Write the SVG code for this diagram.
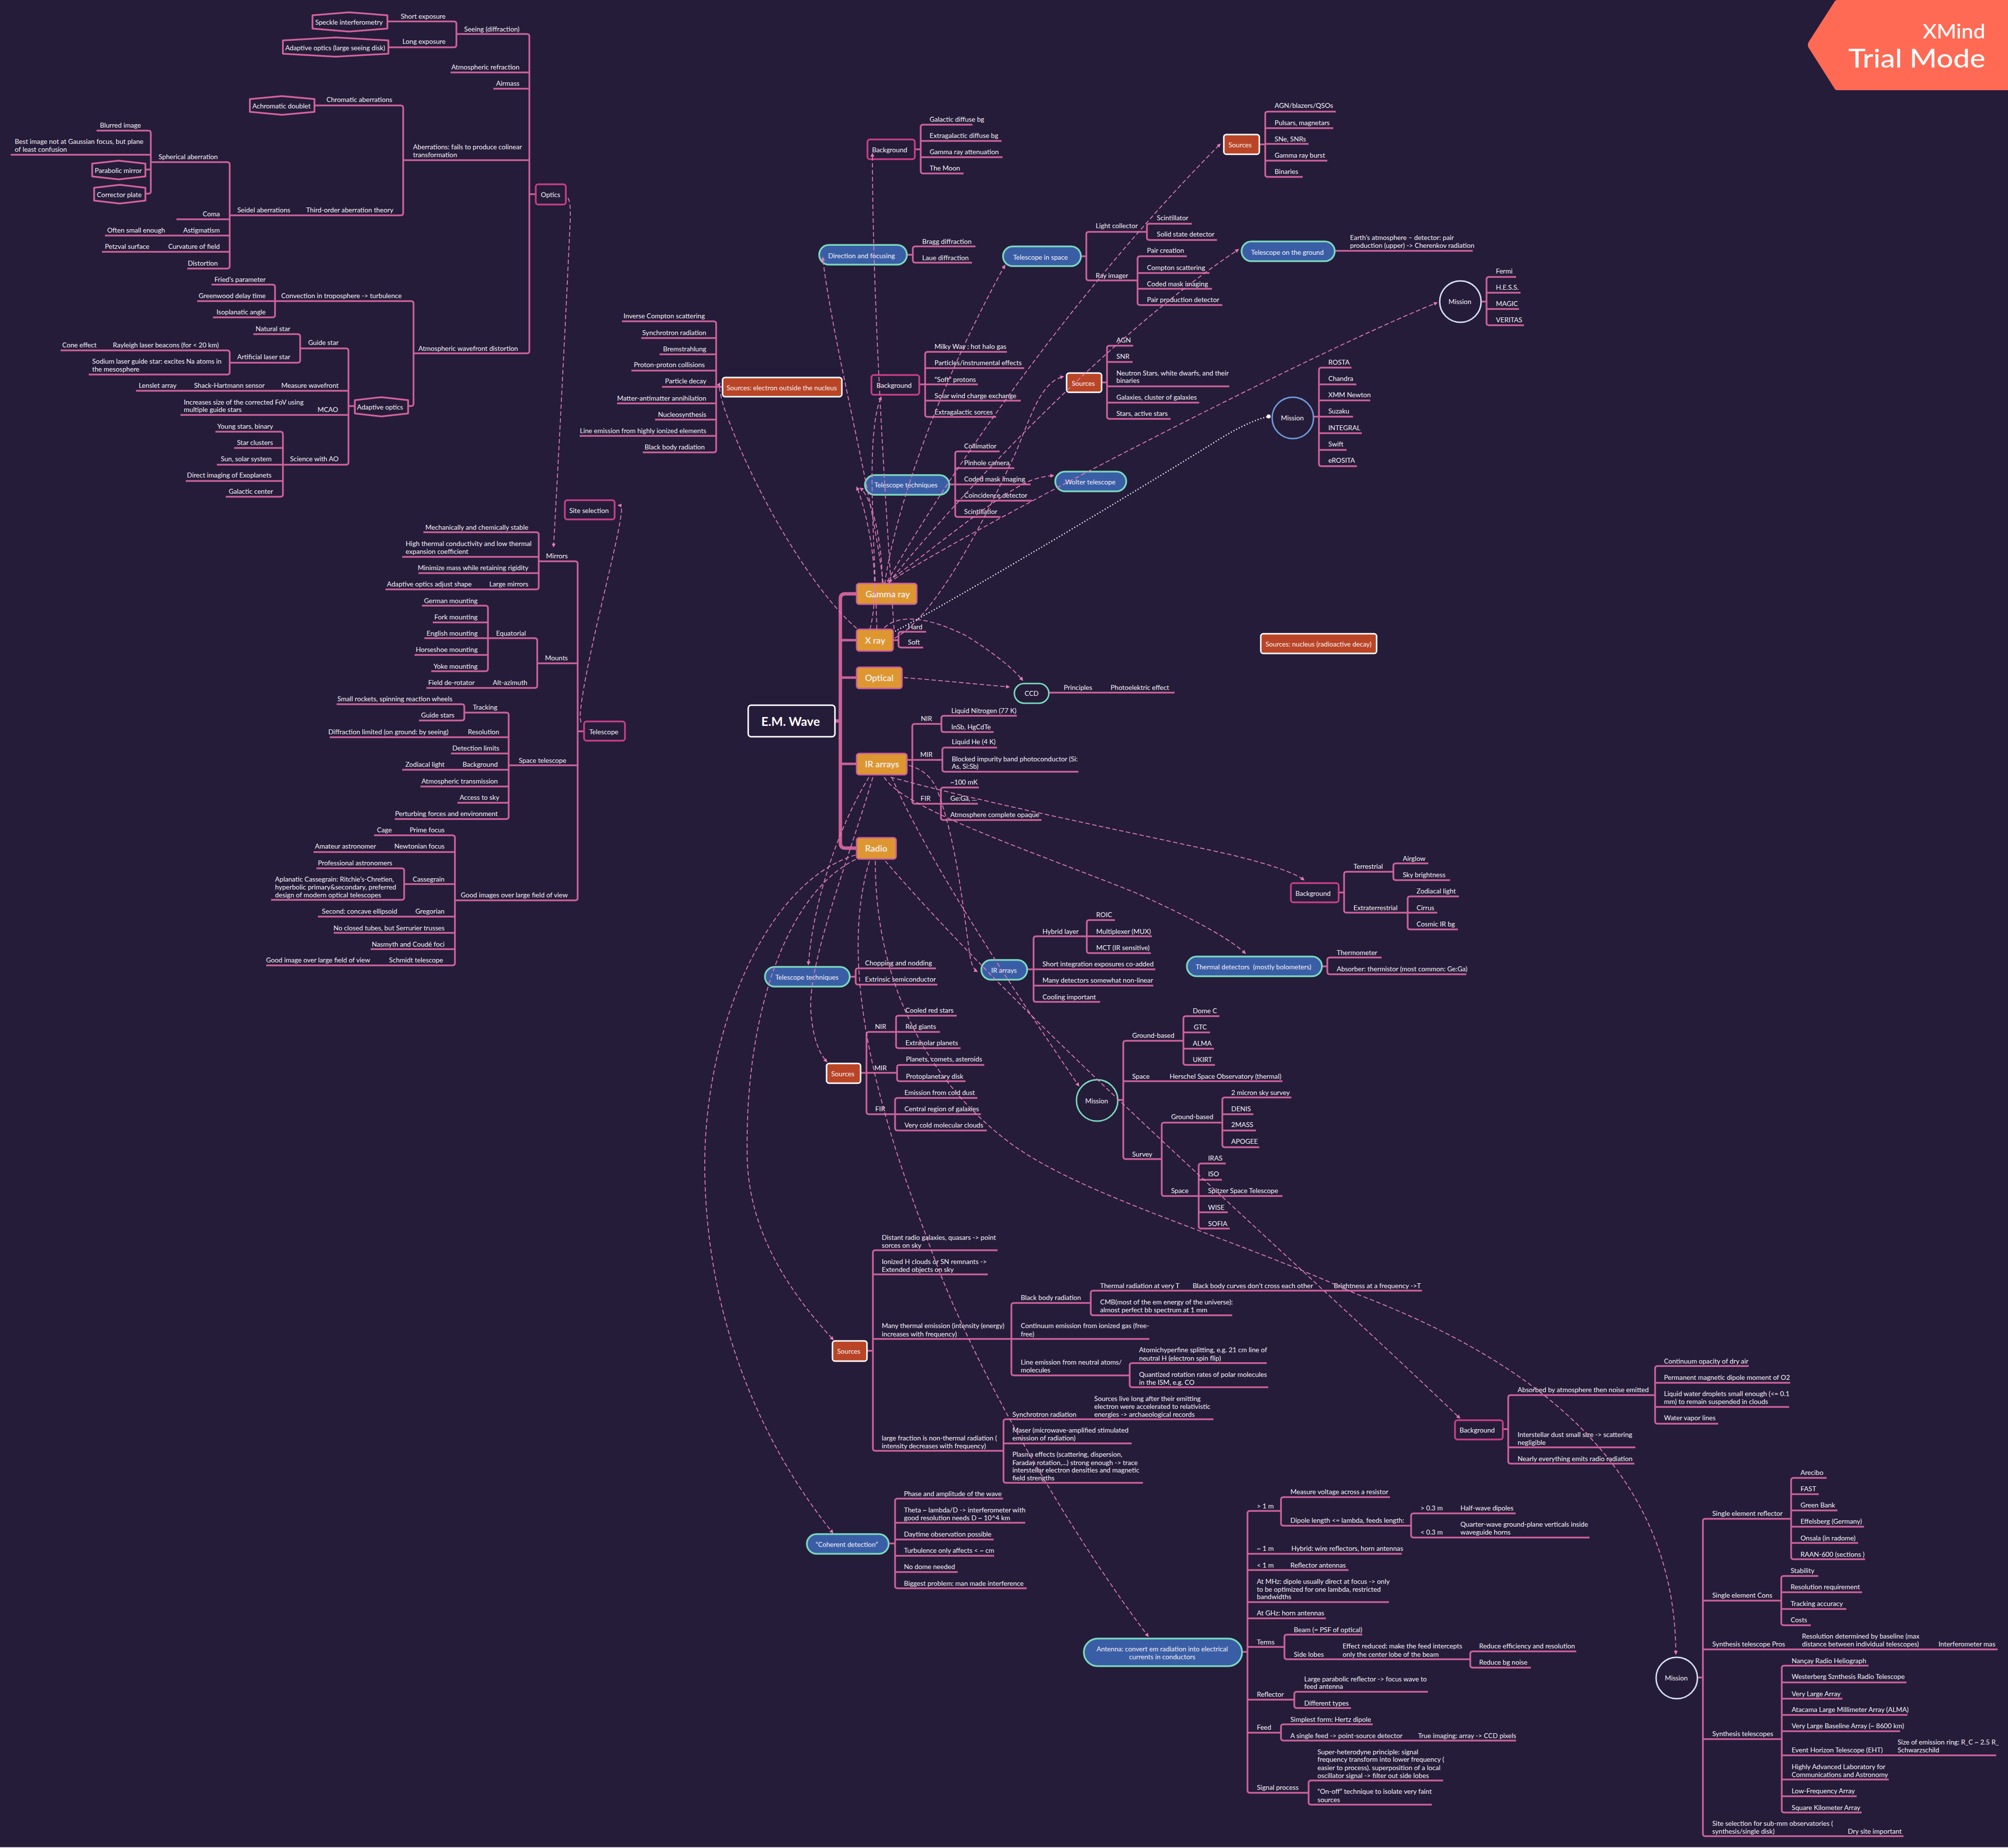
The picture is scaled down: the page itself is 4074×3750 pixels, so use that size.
<svg xmlns="http://www.w3.org/2000/svg" width="4074" height="3750" viewBox="0 0 4074 3750">
<style>
text{font-family:"Lato","Liberation Sans",sans-serif;font-size:13.7px;fill:#f4f1f6;dominant-baseline:central}
.r{text-anchor:end}
.c{text-anchor:middle}
.l{fill:none;stroke:#cb6299;stroke-width:3.5}
.m{fill:none;stroke:#cb6299;stroke-width:7}
.m2{fill:none;stroke:#cb6299;stroke-width:5}
.hex{fill:#251c3a;stroke:#d2639c;stroke-width:3.5;stroke-linejoin:round}
.box{fill:#251c3a;stroke:#c83f86;stroke-width:3.5}
.src{fill:#b94526;stroke:#fff;stroke-width:3}
.blue{fill:#3a5ea6;stroke:#7ad9bd;stroke-width:3.5}
.org{fill:#de9730;stroke:#cb6299;stroke-width:3}
.o{font-size:18px;font-weight:600}
.rel{fill:none;stroke:#e27cb6;stroke-width:1.8;stroke-dasharray:9 5;marker-end:url(#arr)}
.dot{fill:none;stroke:#fff;stroke-width:2.5;stroke-dasharray:2 4;marker-end:url(#dotm)}
</style>
<defs>
<marker id="arr" markerUnits="userSpaceOnUse" markerWidth="10" markerHeight="10" refX="7" refY="4" orient="auto"><path d="M0 0L8 4L0 8Z" fill="#e27cb6"/></marker>
<marker id="dotm" markerUnits="userSpaceOnUse" markerWidth="10" markerHeight="10" refX="5" refY="5" orient="auto"><circle cx="5" cy="5" r="4" fill="#fff"/></marker>
</defs>
<rect width="4074" height="3750" fill="#251c3a"/>
<rect y="3748" width="4074" height="2" fill="#c9c9d2"/>
<g id="connectors">
<path class="m" d="M1738 1205H1715q-10 0-10 10V1711q0 10 10 10H1738M1694 1463H1705"/>
<path class="m2" d="M1705 1299H1738M1705 1375H1738M1705 1550H1738"/>
<path class="l" d="M926 69H1069q5 0 5 5V712q0 5-5 5H839M914 147H1074M1001 180H1074M818 325H1074M1074 394H1087
M786 43.5H921q5 0 5 5V91q0 5-5 5H788
M638 214H813q5 0 5 5V432q0 5-5 5H466
M307 329H461q5 0 5 5V540q0 5-5 5H380M358 445H466M213 478H466M207 511H466
M196 265H301q5 0 5 5V388q0 5-5 5H295M22 314H306M295 344H306
M558 611H834q5 0 5 5V819q0 5-5 5H828
M429 577.5H553q5 0 5 5V639q0 5-5 5H432M400 611H558
M609 707H702q5 0 5 5V938q0 5-5 5H574M276 793H707M366 842H707M707 824H720
M514 678H604q5 0 5 5V731q0 5-5 5H466
M123 711H461q5 0 5 5V755q0 5-5 5H180
M437 876H569q5 0 5 5V1003q0 5-5 5H458M475 909H574M440 943H574M377 976H574
M1093 1139H1167q5 0 5 5V1822q0 5-5 5H923M1090 1346H1172M1032 1553H1172M1172 1484H1185
M859 1080H1088q5 0 5 5V1191q0 5-5 5H782M816 1130H1093M849 1163H1093
M990 1295H1085q5 0 5 5V1391q0 5-5 5H865
M856 1229H985q5 0 5 5V1357q0 5-5 5H875M878 1263H990M861 1295H990M841 1329H990
M942 1446H1027q5 0 5 5V1657q0 5-5 5H801M669 1496H1032M915 1529H1032M816 1562H1032M853 1596H1032M928 1629H1032
M683 1429H937q5 0 5 5V1457q0 5-5 5H850
M759 1695H918q5 0 5 5V1954q0 5-5 5H540M636 1729H923M820 1794H923M645 1860H923M677 1893H923M752 1926H923
M642 1762H815q5 0 5 5V1821q0 5-5 5H550
M1262 652H1448q5 0 5 5V913q0 5-5 5H1304M1301 686H1453M1338 719H1453M1281 752H1453M1343 785H1453M1252 818.5H1453M1329 851.5H1453M1176 884.5H1453M1453 785H1466
M1879 1282H1828q-5 0-5 5V1309q0 5 5 5H1873M1812 1299H1823
M2128 1405.5H2383
M1910 1469H1856q-5 0-5 5V1626q0 5 5 5H1984M1840 1542H1912
M2063 1452.5H1915q-5 0-5 5V1480.5q0 5 5 5H2016
M2023 1517H1917q-5 0-5 5V1561q0 5 5 5H2188
M1986 1598H1914q-5 0-5 5V1659q0 5 5 5H2113
M1973 253H1873q-5 0-5 5V347q0 5 5 5H1955M2032 286H1868M2034 319H1868M1856 303H1868
M1979 500H1857q-5 0-5 5V528q0 5 5 5H1972M1840 517H1852
M2327 470.5H2209q-5 0-5 5V564q0 5 5 5H2308M2193 520H2204
M2418 454H2332q-5 0-5 5V482q0 5 5 5H2469
M2408 520H2313q-5 0-5 5V614q0 5 5 5H2480M2454 554H2308M2459 586H2308
M2710 226.5H2572q-5 0-5 5V354q0 5 5 5H2643M2705 260H2567M2655 292H2567M2693 326H2567M2555 293H2567
M2708 509H2988
M3076 562H3021q-5 0-5 5V655q0 5 5 5H3092M3085 594H3016M3082 627H3016M3005 612H3016
M2742 746H2681q-5 0-5 5V941q0 5 5 5H2753M2752 780H2676M2780 812.5H2676M2745 845.5H2665M2763 879H2676M2732 913H2676
M2299 701.5H2251q-5 0-5 5V845q0 5 5 5H2375M2298 734.5H2246M2494 784H2246M2433 817H2246M2235 776H2246
M2028 916H1943q-5 0-5 5V1044q0 5 5 5H2030M2058 950H1938M2091 983H1926M2094 1016H1938
M2043 714H1882q-5 0-5 5V841q0 5 5 5H2021M2078 747H1877M1984 780H1865M2071 813H1877
M2827 1769H2732q-5 0-5 5V1847q0 5 5 5H2916M2716 1811H2727
M2898 1752H2832q-5 0-5 5V1781q0 5 5 5H2942
M2960 1819H2861q-5 0-5 5V1881q0 5 5 5H2958
M2803 1943H2698q-5 0-5 5V1972q0 5 5 5H2975M2682 1961H2693
M2205 1900H2102q-5 0-5 5V2028q0 5 5 5H2232M2344 1967H2084M2340 2000H2097
M2262 1867H2210q-5 0-5 5V1929q0 5 5 5H2335M2337 1900H2205
M2401 2112H2284q-5 0-5 5V2347q0 5 5 5H2357M2602 2194H2279M2268 2232H2279
M2474 2062H2406q-5 0-5 5V2156q0 5 5 5H2465M2455 2095H2401M2463 2128H2401
M2480 2278H2362q-5 0-5 5V2422q0 5 5 5H2602
M2487 2361H2437q-5 0-5 5V2488q0 5 5 5H2495M2479 2394H2432M2491 2460H2432
M2620 2227H2485q-5 0-5 5V2323q0 5 5 5H2555M2543 2261H2480M2548 2294H2480
M1899 1965H1741q-5 0-5 5V1993q0 5 5 5H1902M1724 1982H1736
M1818 2094H1763q-5 0-5 5V2256q0 5 5 5H1816M1746 2177H1820
M1941 2061H1823q-5 0-5 5V2122q0 5 5 5H1949M1907 2094H1818
M1997 2161H1825q-5 0-5 5V2189q0 5 5 5H1959
M1983 2228H1821q-5 0-5 5V2289q0 5 5 5H2002M1990 2261H1816
M2024 2537H1776q-5 0-5 5V2939q0 5 5 5H2036M2004 2586H1771M2332 2717H1771M1759 2741H1771
M2213 2644H2057q-5 0-5 5V2786q0 5 5 5H2292
M2885 2619H2218q-5 0-5 5V2664q0 5 5 5H2500
M2570 2766H2297q-5 0-5 5V2810q0 5 5 5H2573
M2462 2880H2041q-5 0-5 5V3004q0 5 5 5H2319M2296 2929H2036
M2035 3041H1821q-5 0-5 5V3218q0 5 5 5H2083M2080 3090H1816M2016 3124H1816M2017 3157H1816M1943 3190H1816M1803 3132H1816
M2599 3066H2536q-5 0-5 5V3633q0 5 5 5H2655M2844 3153H2531M2736 3186H2531M2818 3251H2531M2690 3284H2531M2606 3342H2531M2626 3449H2531M2599 3516H2531M2520 3352H2531
M2820 3038H2604q-5 0-5 5V3091q0 5 5 5H2863
M3075 3071H2868q-5 0-5 5V3115q0 5 5 5H3225
M2764 3317H2611q-5 0-5 5V3362q0 5 5 5H2983
M3198 3351H2988q-5 0-5 5V3379q0 5 5 5H3106
M2897 3433H2631q-5 0-5 5V3461q0 5 5 5H2741
M2785 3499H2604q-5 0-5 5V3527q0 5 5 5H3076
M2928 3613H2660q-5 0-5 5V3657q0 5 5 5H2905
M3358 2831H3065q-5 0-5 5V2965q0 5 5 5H3316M3318 2937H3060M3049 2900H3060
M3548 2772H3363q-5 0-5 5V2884q0 5 5 5H3486M3632 2806H3358M3630 2855H3358
M3634 3082H3460q-5 0-5 5V3721q0 5 5 5H3862M3614 3248H3455M4053 3347H3455M3615 3529H3455M3445 3404H3455
M3706 2999H3639q-5 0-5 5V3159q0 5 5 5H3784M3690 3032H3634M3728 3065H3634M3782 3098H3634M3770 3131H3634
M3689 3198H3619q-5 0-5 5V3293q0 5 5 5H3674M3778 3231H3614M3746 3265H3614
M3791 3380H3620q-5 0-5 5V3673q0 5 5 5H3777M3868 3414H3615M3738 3447H3615M3870 3480H3615M3855 3513H3615M4050 3562H3615M3832 3611H3615M3767 3645H3615"/>
</g>
<g id="nodes">
<g id="root"><rect x="1518" y="1431" width="176" height="64" rx="6" fill="#251c3a" stroke="#fff" stroke-width="3"/><text class="c" x="1604" y="1463" style="font-size:25px;font-weight:700;fill:#fff">E.M. Wave</text></g>
<g id="gamma"><rect class="org" x="1738" y="1184" width="122" height="42" rx="5"/><text class="o" x="1756" y="1205">Gamma ray</text></g>
<g id="xray"><rect class="org" x="1738" y="1277" width="74" height="44" rx="5"/><text class="o" x="1755" y="1299">X ray</text></g>
<g id="optical"><rect class="org" x="1738" y="1354" width="92" height="43" rx="5"/><text class="o" x="1755" y="1375">Optical</text></g>
<g id="irarrays"><rect class="org" x="1738" y="1529" width="102" height="43" rx="5"/><text class="o" x="1755" y="1550">IR arrays</text></g>
<g id="radio"><rect class="org" x="1738" y="1700" width="80" height="43" rx="5"/><text class="o" x="1755" y="1721">Radio</text></g>

<g id="optics"><rect class="box" x="1087" y="374" width="61" height="41" rx="5"/><text class="c" x="1117" y="394">Optics</text></g>
<g id="n1"><text class="r" x="1054" y="58">Seeing (diffraction)</text></g>
<g id="n2"><text class="r" x="904" y="32">Short exposure</text></g>
<g id="n3"><polygon class="hex" points="634,31 708,25 786,31 786,58 708,64 634,58"/><text class="c" x="708" y="44">Speckle interferometry</text></g>
<g id="n4"><text class="r" x="904" y="83">Long exposure</text></g>
<g id="n5"><polygon class="hex" points="574,82 681,76 788,82 788,109 681,115 574,109"/><text class="c" x="680" y="96">Adaptive optics (large seeing disk)</text></g>
<g id="n6"><text class="r" x="1054" y="135">Atmospheric refraction</text></g>
<g id="n7"><text class="r" x="1054" y="168">Airmass</text></g>
<g id="n8"><text x="838" y="297">Aberrations: fails to produce colinear<tspan x="838" y="313">transformation</tspan></text></g>
<g id="n9"><text class="r" x="796" y="201">Chromatic aberrations</text></g>
<g id="n10"><polygon class="hex" points="507,201 572,195 638,201 638,227 572,233 507,227"/><text class="c" x="571" y="214">Achromatic doublet</text></g>
<g id="n11"><text class="r" x="798" y="425">Third-order aberration theory</text></g>
<g id="n12"><text class="r" x="589" y="425">Seidel aberrations</text></g>
<g id="n13"><text class="r" x="442" y="317">Spherical aberration</text></g>
<g id="n14"><text class="r" x="286" y="253">Blurred image</text></g>
<g id="n15"><text x="30" y="286">Best image not at Gaussian focus, but plane<tspan x="30" y="302">of least confusion</tspan></text></g>
<g id="n16"><polygon class="hex" points="187,332 241,326 295,332 295,358 241,364 187,358"/><text class="c" x="240" y="345">Parabolic mirror</text></g>
<g id="n17"><polygon class="hex" points="191,381 243,375 295,381 295,407 243,413 191,407"/><text class="c" x="242" y="394">Corrector plate</text></g>
<g id="n18"><text class="r" x="446" y="433">Coma</text></g>
<g id="n19"><text class="r" x="446" y="466">Astigmatism</text></g>
<g id="n20"><text class="r" x="335" y="466">Often small enough</text></g>
<g id="n21"><text class="r" x="446" y="499">Curvature of field</text></g>
<g id="n22"><text class="r" x="303" y="499">Petzval surface</text></g>
<g id="n23"><text class="r" x="442" y="533">Distortion</text></g>
<g id="n24"><text class="r" x="1051" y="706">Atmospheric wavefront distortion</text></g>
<g id="n25"><text class="r" x="815" y="599">Convection in troposphere  -&gt; turbulence</text></g>
<g id="n26"><text class="r" x="539" y="566">Fried’s parameter</text></g>
<g id="n27"><text class="r" x="539" y="599">Greenwood delay time</text></g>
<g id="n28"><text class="r" x="539" y="632">Isoplanatic angle</text></g>
<g id="n29"><polygon class="hex" points="720,812 774,806 828,812 828,839 774,845 720,839"/><text class="c" x="771" y="825">Adaptive optics</text></g>
<g id="n30"><text class="r" x="687" y="694">Guide star</text></g>
<g id="n31"><text class="r" x="589" y="666">Natural star</text></g>
<g id="n32"><text class="r" x="589" y="723">Artificial laser star</text></g>
<g id="n33"><text class="r" x="444" y="699">Rayleigh laser beacons (for &lt; 20 km)</text></g>
<g id="n34"><text class="r" x="196" y="699">Cone effect</text></g>
<g id="n35"><text x="187" y="732">Sodium laser guide star: excites Na atoms in<tspan x="187" y="748">the mesosphere</tspan></text></g>
<g id="n36"><text class="r" x="687" y="781">Measure wavefront</text></g>
<g id="n37"><text class="r" x="537" y="781">Shack-Hartmann sensor</text></g>
<g id="n38"><text class="r" x="358" y="781">Lenslet array</text></g>
<g id="n39"><text class="r" x="686" y="830">MCAO</text></g>
<g id="n40"><text x="373" y="815">Increases size of the corrected FoV using<tspan x="373" y="830">multiple guide stars</tspan></text></g>
<g id="n41"><text class="r" x="687" y="930">Science with AO</text></g>
<g id="n42"><text class="r" x="554" y="864">Young stars, binary</text></g>
<g id="n43"><text class="r" x="554" y="897">Star clusters</text></g>
<g id="n44"><text class="r" x="551" y="930">Sun, solar system</text></g>
<g id="n45"><text class="r" x="551" y="963">Direct imaging of Exoplanets</text></g>
<g id="n46"><text class="r" x="554" y="996">Galactic center</text></g>

<g id="site"><rect class="box" x="1146" y="1015" width="101" height="39" rx="5"/><text class="c" x="1195" y="1035">Site selection</text></g>
<g id="telescope"><rect class="box" x="1185" y="1464" width="83" height="39" rx="5"/><text class="c" x="1225" y="1484">Telescope</text></g>
<g id="n50"><text class="r" x="1152" y="1127">Mirrors</text></g>
<g id="n51"><text class="r" x="1072" y="1069">Mechanically and chemically stable</text></g>
<g id="n52"><text x="823" y="1102">High thermal conductivity and low thermal<tspan x="823" y="1118">expansion coefficient</tspan></text></g>
<g id="n53"><text class="r" x="1072" y="1151">Minimize mass while retaining rigidity</text></g>
<g id="n54"><text class="r" x="1072" y="1184">Large mirrors</text></g>
<g id="n55"><text class="r" x="957" y="1184">Adaptive optics adjust shape</text></g>
<g id="n56"><text class="r" x="1152" y="1334">Mounts</text></g>
<g id="n57"><text class="r" x="1067" y="1284">Equatorial</text></g>
<g id="n58"><text class="r" x="969" y="1218">German mounting</text></g>
<g id="n59"><text class="r" x="969" y="1251">Fork mounting</text></g>
<g id="n60"><text class="r" x="969" y="1284">English mounting</text></g>
<g id="n61"><text class="r" x="969" y="1317">Horseshoe mounting</text></g>
<g id="n62"><text class="r" x="969" y="1351">Yoke mounting</text></g>
<g id="n63"><text class="r" x="1070" y="1384">Alt-azimuth</text></g>
<g id="n64"><text class="r" x="963" y="1384">Field de-rotator</text></g>
<g id="n65"><text class="r" x="1149" y="1542">Space telescope</text></g>
<g id="n66"><text class="r" x="1009" y="1434">Tracking</text></g>
<g id="n67"><text class="r" x="918" y="1417">Small rockets, spinning reaction wheels</text></g>
<g id="n68"><text class="r" x="922" y="1450">Guide stars</text></g>
<g id="n69"><text class="r" x="1013" y="1484">Resolution</text></g>
<g id="n70"><text class="r" x="910" y="1484">Diffraction limited (on ground: by seeing)</text></g>
<g id="n71"><text class="r" x="1013" y="1517">Detection limits</text></g>
<g id="n72"><text class="r" x="1010" y="1550">Background</text></g>
<g id="n73"><text class="r" x="902" y="1550">Zodiacal light</text></g>
<g id="n74"><text class="r" x="1010" y="1584">Atmospheric transmission</text></g>
<g id="n75"><text class="r" x="1013" y="1617">Access to sky</text></g>
<g id="n76"><text class="r" x="1010" y="1650">Perturbing forces and environment</text></g>
<g id="n77"><text class="r" x="1152" y="1815">Good images over large field of view</text></g>
<g id="n78"><text class="r" x="902" y="1683">Prime focus</text></g>
<g id="n79"><text class="r" x="795" y="1683">Cage</text></g>
<g id="n80"><text class="r" x="902" y="1716">Newtonian focus</text></g>
<g id="n81"><text class="r" x="763" y="1716">Amateur astronomer</text></g>
<g id="n82"><text class="r" x="902" y="1783">Cassegrain</text></g>
<g id="n83"><text class="r" x="796" y="1750">Professional astronomers</text></g>
<g id="n84"><text x="558" y="1783">Aplanatic Cassegrain: Ritchie’s-Chretien,<tspan x="558" y="1799">hyperbolic primary&amp;secondary, preferred</tspan><tspan x="558" y="1815">design of modern optical telescopes</tspan></text></g>
<g id="n85"><text class="r" x="902" y="1848">Gregorian</text></g>
<g id="n86"><text class="r" x="806" y="1848">Second: concave ellipsoid</text></g>
<g id="n87"><text class="r" x="902" y="1882">No closed tubes, but Serrurier trusses</text></g>
<g id="n88"><text class="r" x="902" y="1915">Nasmyth and Coudé foci</text></g>
<g id="n89"><text class="r" x="899" y="1947">Schmidt telescope</text></g>
<g id="n90"><text class="r" x="751" y="1947">Good image over large field of view</text></g>

<g id="srcE"><rect class="src" x="1466" y="766" width="242" height="39" rx="5"/><text class="c" x="1586" y="786">Sources: electron outside the nucleus</text></g>
<g id="n100"><text class="r" x="1430" y="640">Inverse Compton scattering</text></g>
<g id="n101"><text class="r" x="1433" y="674">Synchrotron radiation</text></g>
<g id="n102"><text class="r" x="1433" y="707">Bremstrahlung</text></g>
<g id="n103"><text class="r" x="1430" y="739">Proton-proton  collisions</text></g>
<g id="n104"><text class="r" x="1433" y="772">Particle decay</text></g>
<g id="n105"><text class="r" x="1433" y="807">Matter-antimatter annihilation</text></g>
<g id="n106"><text class="r" x="1433" y="840">Nucleosynthesis</text></g>
<g id="n107"><text class="r" x="1433" y="873">Line emission from highly ionized elements</text></g>
<g id="n108"><text class="r" x="1430" y="906">Black body radiation</text></g>

<g id="bgG"><rect class="box" x="1760" y="283" width="96" height="40" rx="5"/><text class="c" x="1805" y="303">Background</text></g>
<g id="n110"><text x="1886" y="241">Galactic diffuse bg</text></g>
<g id="n111"><text x="1886" y="274">Extragalactic diffuse bg</text></g>
<g id="n112"><text x="1886" y="307">Gamma ray attenuation</text></g>
<g id="n113"><text x="1886" y="340">The Moon</text></g>
<g id="dir"><rect class="blue" x="1662" y="497" width="178" height="40" rx="20"/><text class="c" x="1748" y="518">Direction and focusing</text></g>
<g id="n114"><text x="1871" y="489">Bragg diffraction</text></g>
<g id="n115"><text x="1871" y="522">Laue diffraction</text></g>
<g id="tis"><rect class="blue" x="2035" y="500" width="158" height="40" rx="20"/><text class="c" x="2111" y="521">Telescope in space</text></g>
<g id="n116"><text x="2223" y="457.5">Light collector</text></g>
<g id="n117"><text x="2347" y="441.5">Scintillator</text></g>
<g id="n118"><text x="2347" y="474">Solid state detector</text></g>
<g id="n119"><text x="2223" y="558">Ray imager</text></g>
<g id="n120"><text x="2327" y="507">Pair creation</text></g>
<g id="n121"><text x="2327" y="542">Compton scattering</text></g>
<g id="n122"><text x="2327" y="575">Coded mask imaging</text></g>
<g id="n123"><text x="2327" y="607">Pair production detector</text></g>
<g id="srcG"><rect class="src" x="2483" y="273" width="72" height="40" rx="5"/><text class="c" x="2516" y="293">Sources</text></g>
<g id="n124"><text x="2586" y="213.5">AGN/blazers/QSOs</text></g>
<g id="n125"><text x="2586" y="248">Pulsars, magnetars</text></g>
<g id="n126"><text x="2586" y="281">SNe, SNRs</text></g>
<g id="n127"><text x="2586" y="314">Gamma ray burst</text></g>
<g id="n128"><text x="2586" y="347">Binaries</text></g>
<g id="tog"><rect class="blue" x="2519" y="490" width="189" height="40" rx="20"/><text class="c" x="2612" y="511">Telescope on the ground</text></g>
<g id="n129"><text x="2739" y="481">Earth’s atmosphere – detector: pair<tspan x="2739" y="497">production (upper) -&gt; Cherenkov radiation</tspan></text></g>
<g id="misG"><circle cx="2963" cy="612" r="42" fill="#251c3a" stroke="#d5dcf0" stroke-width="3"/><text class="c" x="2962" y="611">Mission</text></g>
<g id="n130"><text x="3035" y="549">Fermi</text></g>
<g id="n131"><text x="3035" y="582">H.E.S.S.</text></g>
<g id="n132"><text x="3035" y="615">MAGIC</text></g>
<g id="n133"><text x="3035" y="648">VERITAS</text></g>
<g id="misX"><circle cx="2623" cy="848" r="42" fill="#251c3a" stroke="#6f9bd8" stroke-width="3"/><text class="c" x="2622" y="847">Mission</text></g>
<g id="n134"><text x="2695" y="734.5">ROSTA</text></g>
<g id="n135"><text x="2695" y="767">Chandra</text></g>
<g id="n136"><text x="2695" y="800">XMM Newton</text></g>
<g id="n137"><text x="2695" y="833">Suzaku</text></g>
<g id="n138"><text x="2695" y="867">INTEGRAL</text></g>
<g id="n139"><text x="2695" y="900">Swift</text></g>
<g id="n140"><text x="2695" y="933">eROSITA</text></g>
<g id="srcX"><rect class="src" x="2164" y="757" width="71" height="39" rx="5"/><text class="c" x="2198" y="777">Sources</text></g>
<g id="n141"><text x="2265" y="689">AGN</text></g>
<g id="n142"><text x="2265" y="722">SNR</text></g>
<g id="n143"><text x="2265" y="756">Neutron Stars, white dwarfs, and their<tspan x="2265" y="771">binaries</tspan></text></g>
<g id="n144"><text x="2265" y="805">Galaxies, cluster of galaxies</text></g>
<g id="n145"><text x="2265" y="838">Stars, active stars</text></g>
<g id="wolter"><rect class="blue" x="2141" y="957" width="144" height="40" rx="20"/><text class="c" x="2212" y="977">Wolter telescope</text></g>
<g id="ttX"><rect class="blue" x="1755" y="964" width="171" height="40" rx="20"/><text class="c" x="1838" y="983">Telescope techniques</text></g>
<g id="n146"><text x="1956" y="904">Collimatior</text></g>
<g id="n147"><text x="1956" y="938">Pinhole camera</text></g>
<g id="n148"><text x="1956" y="971">Coded mask imaging</text></g>
<g id="n149"><text x="1956" y="1004">Coincidence detector</text></g>
<g id="n150"><text x="1956" y="1037">Scintillatior</text></g>
<g id="bgX"><rect class="box" x="1768" y="761" width="97" height="40" rx="5"/><text class="c" x="1814" y="781">Background</text></g>
<g id="n151"><text x="1896" y="702">Milky Way : hot halo gas</text></g>
<g id="n152"><text x="1896" y="735">Particles/instrumental effects</text></g>
<g id="n153"><text x="1896" y="769">“Soft” protons</text></g>
<g id="n154"><text x="1896" y="802">Solar wind charge exchange</text></g>
<g id="n155"><text x="1896" y="835">Extragalactic sorces</text></g>
<g id="n156"><text x="1842" y="1271">Hard</text></g>
<g id="n157"><text x="1842" y="1302">Soft</text></g>
<g id="srcN"><rect class="src" x="2558" y="1286" width="235" height="40" rx="5"/><text class="c" x="2675" y="1306">Sources: nucleus (radioactive decay)</text></g>
<g id="ccd"><rect x="2058" y="1387" width="70" height="40" rx="20" fill="#251c3a" stroke="#7ad9bd" stroke-width="3"/><text class="c" x="2093" y="1406">CCD</text></g>
<g id="n158"><text class="r" x="2216" y="1394">Principles</text></g>
<g id="n159"><text class="r" x="2372" y="1394">Photoelektric effect</text></g>
<g id="n160"><text class="r" x="1891" y="1457">NIR</text></g>
<g id="n161"><text x="1930" y="1441">Liquid Nitrogen (77 K)</text></g>
<g id="n162"><text x="1930" y="1474">InSb, HgCdTe</text></g>
<g id="n163"><text class="r" x="1892" y="1530">MIR</text></g>
<g id="n164"><text x="1931" y="1504">Liquid He (4 K)</text></g>
<g id="n165"><text x="1931" y="1539">Blocked impurity band photoconductor (Si:<tspan x="1931" y="1554">As, Si:Sb)</tspan></text></g>
<g id="n166"><text class="r" x="1888" y="1619">FIR</text></g>
<g id="n167"><text x="1928" y="1586">~100 mK</text></g>
<g id="n168"><text x="1928" y="1619">Ge:Ga, ...</text></g>
<g id="n169"><text x="1928" y="1652">Atmosphere complete opaque</text></g>
<g id="bgI"><rect class="box" x="2619" y="1792" width="97" height="39" rx="5"/><text class="c" x="2664" y="1812">Background</text></g>
<g id="n170"><text x="2746" y="1757">Terrestrial</text></g>
<g id="n171"><text x="2846" y="1741">Airglow</text></g>
<g id="n172"><text x="2846" y="1774">Sky brightness</text></g>
<g id="n173"><text x="2746" y="1841">Extraterrestrial</text></g>
<g id="n174"><text x="2874" y="1807">Zodiacal light</text></g>
<g id="n175"><text x="2874" y="1841">Cirrus</text></g>
<g id="n176"><text x="2874" y="1874">Cosmic IR bg</text></g>
<g id="thermal"><rect class="blue" x="2408" y="1941" width="274" height="40" rx="20"/><text class="c" x="2543" y="1961" xml:space="preserve">Thermal detectors  (mostly bolometers)</text></g>
<g id="n177"><text x="2712" y="1932">Thermometer</text></g>
<g id="n178"><text x="2712" y="1965">Absorber: thermistor (most common: Ge:Ga)</text></g>
<g id="irB"><rect class="blue" x="1991" y="1948" width="93" height="40" rx="20"/><text class="c" x="2037" y="1968">IR arrays</text></g>
<g id="n179"><text x="2115" y="1889">Hybrid layer</text></g>
<g id="n180"><text x="2224" y="1855">ROIC</text></g>
<g id="n181"><text x="2224" y="1889">Multiplexer (MUX)</text></g>
<g id="n182"><text x="2224" y="1922">MCT (IR sensitive)</text></g>
<g id="n183"><text x="2115" y="1955">Short integration exposures co-added</text></g>
<g id="n184"><text x="2115" y="1988">Many detectors somewhat non-linear</text></g>
<g id="n185"><text x="2115" y="2022">Cooling important</text></g>
<g id="misI"><circle cx="2226" cy="2233" r="42" fill="#251c3a" stroke="#7ad9bd" stroke-width="3"/><text class="c" x="2225" y="2233">Mission</text></g>
<g id="n186"><text x="2297" y="2100">Ground-based</text></g>
<g id="n187"><text x="2420" y="2050">Dome C</text></g>
<g id="n188"><text x="2422" y="2083">GTC</text></g>
<g id="n189"><text x="2420" y="2116">ALMA</text></g>
<g id="n190"><text x="2420" y="2149">UKIRT</text></g>
<g id="n191"><text x="2297" y="2183">Space</text></g>
<g id="n192"><text x="2373" y="2183">Herschel Space Observatory (thermal)</text></g>
<g id="n193"><text x="2297" y="2341">Survey</text></g>
<g id="n194"><text x="2376" y="2265">Ground-based</text></g>
<g id="n195"><text x="2498" y="2216">2 micron sky survey</text></g>
<g id="n196"><text x="2498" y="2249">DENIS</text></g>
<g id="n197"><text x="2498" y="2281">2MASS</text></g>
<g id="n198"><text x="2498" y="2315">APOGEE</text></g>
<g id="n199"><text x="2376" y="2415">Space</text></g>
<g id="n200"><text x="2451" y="2349">IRAS</text></g>
<g id="n201"><text x="2451" y="2381">ISO</text></g>
<g id="n202"><text x="2451" y="2415">Spitzer Space Telescope</text></g>
<g id="n203"><text x="2451" y="2449">WISE</text></g>
<g id="n204"><text x="2451" y="2482">SOFIA</text></g>
<g id="ttI"><rect class="blue" x="1552" y="1962" width="172" height="40" rx="20"/><text class="c" x="1637" y="1982">Telescope techniques</text></g>
<g id="n205"><text x="1755" y="1953">Chopping and nodding</text></g>
<g id="n206"><text x="1755" y="1986">Extrinsic semiconductor</text></g>
<g id="srcI"><rect class="src" x="1677" y="2158" width="69" height="40" rx="5"/><text class="c" x="1710" y="2178">Sources</text></g>
<g id="n207"><text class="r" x="1798" y="2082">NIR</text></g>
<g id="n208"><text x="1837" y="2049">Cooled red stars</text></g>
<g id="n209"><text x="1837" y="2082">Red giants</text></g>
<g id="n210"><text x="1837" y="2115">Extrasolar planets</text></g>
<g id="n211"><text class="r" x="1799" y="2166">MIR</text></g>
<g id="n212"><text x="1838" y="2148">Planets, comets, asteroids</text></g>
<g id="n213"><text x="1838" y="2183">Protoplanetary disk</text></g>
<g id="n214"><text class="r" x="1796" y="2249">FIR</text></g>
<g id="n215"><text x="1835" y="2216">Emission from cold dust</text></g>
<g id="n216"><text x="1835" y="2249">Central region of galaxies</text></g>
<g id="n217"><text x="1835" y="2282">Very cold molecular clouds</text></g>

<g id="srcR"><rect class="src" x="1689" y="2721" width="70" height="41" rx="5"/><text class="c" x="1722" y="2741">Sources</text></g>
<g id="n220"><text x="1789" y="2510">Distant radio galaxies, quasars -&gt; point<tspan x="1789" y="2526">sorces on sky</tspan></text></g>
<g id="n221"><text x="1789" y="2559">Ionized H clouds or SN remnants -&gt;<tspan x="1789" y="2575">Extended objects on sky</tspan></text></g>
<g id="n222"><text x="1789" y="2689.5">Many thermal emission (intensity (energy)<tspan x="1789" y="2705.5">increases with frequency)</tspan></text></g>
<g id="n223"><text x="2071" y="2632">Black body radiation</text></g>
<g id="n224"><text x="2232" y="2608">Thermal radiation at very T</text></g>
<g id="n225"><text class="r" x="2664" y="2608">Black body curves don’t cross each other</text></g>
<g id="n226"><text x="2706" y="2608">Brightness at a frequency -&gt;T</text></g>
<g id="n227"><text x="2232" y="2641">CMB(most of the em energy of the universe):<tspan x="2232" y="2657">almost perfect bb spectrum at 1 mm</tspan></text></g>
<g id="n228"><text x="2071" y="2689.5">Continuum emission from ionized gas (free-<tspan x="2071" y="2705.5">free)</tspan></text></g>
<g id="n229"><text x="2071" y="2763.5">Line emission from neutral atoms/<tspan x="2071" y="2779">molecules</tspan></text></g>
<g id="n230"><text x="2311" y="2738.5">Atomichyperfine splitting, e.g. 21 cm line of<tspan x="2311" y="2754.5">neutral H (electron spin flip)</tspan></text></g>
<g id="n231"><text x="2311" y="2788">Quantized rotation rates of polar molecules<tspan x="2311" y="2804">in the ISM, e.g. CO</tspan></text></g>
<g id="n232"><text x="1789" y="2917">large fraction is non-thermal radiation (<tspan x="1789" y="2933">intensity decreases with frequency)</tspan></text></g>
<g id="n233"><text x="2054" y="2869">Synchrotron radiation</text></g>
<g id="n234"><text x="2220" y="2837">Sources live long after their emitting<tspan x="2220" y="2853">electron were accelerated to relativistic</tspan><tspan x="2220" y="2869">energies -&gt; archaeological records</tspan></text></g>
<g id="n235"><text x="2054" y="2901">Maser (microwave-amplified stimulated<tspan x="2054" y="2917">emission of radiation)</tspan></text></g>
<g id="n236"><text x="2054" y="2950">Plasma effects (scattering, dispersion,<tspan x="2054" y="2966.5">Faraday rotation,...) strong enough -&gt; trace</tspan><tspan x="2054" y="2982">interstellar electron densities and magnetic</tspan><tspan x="2054" y="2998">field strengths</tspan></text></g>
<g id="coh"><rect class="blue" x="1637" y="3113" width="166" height="40" rx="20"/><text class="c" x="1718" y="3133">“Coherent detection”</text></g>
<g id="n237"><text x="1834" y="3030">Phase and amplitude of the wave</text></g>
<g id="n238"><text x="1834" y="3063">Theta ~ lambda/D -&gt; interferometer with<tspan x="1834" y="3079">good resolution needs D ~ 10^4 km</tspan></text></g>
<g id="n239"><text x="1834" y="3112">Daytime observation possible</text></g>
<g id="n240"><text x="1834" y="3145">Turbulence only affects &lt; ~ cm</text></g>
<g id="n241"><text x="1834" y="3178">No dome needed</text></g>
<g id="n242"><text x="1834" y="3212">Biggest problem: man made interference</text></g>
<g id="ant"><rect class="blue" x="2199" y="3325" width="321" height="56" rx="28"/><text class="c" x="2358" y="3345">Antenna: convert em radiation into electrical<tspan class="c" x="2358" y="3361">currents in conductors</tspan></text></g>
<g id="n243"><text x="2550" y="3055">&gt; 1 m</text></g>
<g id="n244"><text x="2618" y="3026">Measure voltage across a resistor</text></g>
<g id="n245"><text x="2618" y="3084">Dipole length &lt;= lambda, feeds length:</text></g>
<g id="n246"><text x="2882" y="3059">&gt; 0.3 m</text></g>
<g id="n247"><text x="2963" y="3059">Half-wave dipoles</text></g>
<g id="n248"><text x="2882" y="3108">&lt; 0.3 m</text></g>
<g id="n249"><text x="2963" y="3092">Quarter-wave ground-plane verticals inside<tspan x="2963" y="3108">waveguide horns</tspan></text></g>
<g id="n250"><text x="2550" y="3141">~ 1 m</text></g>
<g id="n251"><text x="2620" y="3141">Hybrid: wire reflectors, horn antennas</text></g>
<g id="n252"><text x="2550" y="3175">&lt; 1 m</text></g>
<g id="n253"><text x="2618" y="3175">Reflector antennas</text></g>
<g id="n254"><text x="2550" y="3208">At MHz: dipole usually direct at focus -&gt; only<tspan x="2550" y="3224">to be optimized for one lambda, restricted</tspan><tspan x="2550" y="3239">bandwidths</tspan></text></g>
<g id="n255"><text x="2550" y="3272">At GHz: horn antennas</text></g>
<g id="n256"><text x="2550" y="3331">Terms</text></g>
<g id="n257"><text x="2625" y="3306">Beam (= PSF of optical)</text></g>
<g id="n258"><text x="2625" y="3356">Side lobes</text></g>
<g id="n259"><text x="2724" y="3339">Effect reduced: make the feed intercepts<tspan x="2724" y="3356">only the center lobe of the beam</tspan></text></g>
<g id="n260"><text x="3001" y="3339">Reduce efficiency and resolution</text></g>
<g id="n261"><text x="3001" y="3372">Reduce bg noise</text></g>
<g id="n262"><text x="2550" y="3437">Reflector</text></g>
<g id="n263"><text x="2646" y="3406">Large parabolic reflector -&gt; focus wave to<tspan x="2646" y="3421">feed antenna</tspan></text></g>
<g id="n264"><text x="2646" y="3455">Different types</text></g>
<g id="n265"><text x="2550" y="3504">Feed</text></g>
<g id="n266"><text x="2618" y="3488">Simplest form: Hertz dipole</text></g>
<g id="n267"><text x="2618" y="3521">A single feed -&gt; point-source detector</text></g>
<g id="n268"><text x="2877" y="3521">True imaging: array -&gt; CCD pixels</text></g>
<g id="n269"><text x="2550" y="3626">Signal process</text></g>
<g id="n270"><text x="2673" y="3554">Super-heterodyne principle: signal<tspan x="2673" y="3569">frequency transform into lower frequency (</tspan><tspan x="2673" y="3586">easier to process). superposition of a local</tspan><tspan x="2673" y="3602">oscillator signal -&gt; filter out side lobes</tspan></text></g>
<g id="n271"><text x="2673" y="3634">“On-off” technique to isolate very faint<tspan x="2673" y="3651">sources</tspan></text></g>
<g id="bgR"><rect class="box" x="2952" y="2882" width="97" height="39" rx="5"/><text class="c" x="2997" y="2901">Background</text></g>
<g id="n272"><text x="3079" y="2819">Absorbed by atmosphere then noise emitted</text></g>
<g id="n273"><text x="3376" y="2761">Continuum opacity of dry air</text></g>
<g id="n274"><text x="3376" y="2794">Permanent magnetic dipole moment of O2</text></g>
<g id="n275"><text x="3376" y="2827">Liquid water droplets small enough (&lt;= 0.1<tspan x="3376" y="2843">mm) to remain suspended in clouds</tspan></text></g>
<g id="n276"><text x="3376" y="2876">Water vapor lines</text></g>
<g id="n277"><text x="3079" y="2910">Interstellar dust small size -&gt; scattering<tspan x="3079" y="2926">negligible</tspan></text></g>
<g id="n278"><text x="3079" y="2959">Nearly everything emits radio radiation</text></g>
<g id="misR"><circle cx="3402" cy="3405" r="42" fill="#251c3a" stroke="#d5dcf0" stroke-width="3"/><text class="c" x="3401" y="3404">Mission</text></g>
<g id="n280"><text x="3474" y="3070">Single element reflector</text></g>
<g id="n281"><text x="3653" y="2987">Arecibo</text></g>
<g id="n282"><text x="3653" y="3020">FAST</text></g>
<g id="n283"><text x="3653" y="3053">Green Bank</text></g>
<g id="n284"><text x="3653" y="3086">Effelsberg (Germany)</text></g>
<g id="n285"><text x="3653" y="3120">Onsala (in radome)</text></g>
<g id="n286"><text x="3653" y="3153">RAAN-600 (sections )</text></g>
<g id="n287"><text x="3474" y="3236">Single element Cons</text></g>
<g id="n288"><text x="3633" y="3186">Stability</text></g>
<g id="n289"><text x="3633" y="3219">Resolution requirement</text></g>
<g id="n290"><text x="3633" y="3253">Tracking accuracy</text></g>
<g id="n291"><text x="3633" y="3286">Costs</text></g>
<g id="n292"><text x="3474" y="3335">Synthesis telescope Pros</text></g>
<g id="n293"><text x="3656" y="3319">Resolution determined by baseline (max<tspan x="3656" y="3335">distance between individual telescopes)</tspan></text></g>
<g id="n294"><text x="3933" y="3335">Interferometer mas</text></g>
<g id="n295"><text x="3474" y="3517">Synthesis telescopes</text></g>
<g id="n296"><text x="3635" y="3369">Nançay Radio Heliograph</text></g>
<g id="n297"><text x="3635" y="3401">Westerberg Sznthesis Radio Telescope</text></g>
<g id="n298"><text x="3635" y="3436">Very Large Array</text></g>
<g id="n299"><text x="3635" y="3468">Atacama Large Millimeter Array (ALMA)</text></g>
<g id="n300"><text x="3635" y="3501">Very Large Baseline Array (~ 8600 km)</text></g>
<g id="n301"><text x="3635" y="3550">Event Horizon Telescope (EHT)</text></g>
<g id="n302"><text x="3850" y="3534">Size of emission ring: R_C ~ 2.5 R_<tspan x="3850" y="3550">Schwarzschild</tspan></text></g>
<g id="n303"><text x="3635" y="3584">Highly Advanced Laboratory for<tspan x="3635" y="3600">Communications and Astronomy</tspan></text></g>
<g id="n304"><text x="3635" y="3633">Low-Frequency Array</text></g>
<g id="n305"><text x="3635" y="3667">Square Kilometer Array</text></g>
<g id="n306"><text x="3474" y="3699">Site selection for sub-mm observatories (<tspan x="3474" y="3715">synthesis/single disk)</tspan></text></g>
<g id="n307"><text x="3749" y="3715">Dry site important</text></g>
</g>
<g id="relationships">
<path class="rel" d="M1152 402Q1158 408 1157 445C1150 600 1135 900 1123 1110"/>
<path class="rel" d="M1179 1466Q1176 1460 1178 1440C1190 1330 1258 1090 1261 1035Q1262 1026 1254 1025"/>
<path class="rel" d="M1795 1185C1815 1040 1900 790 2039 538"/>
<path class="rel" d="M1800 1180C1950 920 2200 570 2476 292"/>
<path class="rel" d="M1803 1182C1950 1000 2250 680 2513 506"/>
<path class="rel" d="M1803 1183C1900 1110 2650 720 2916 614"/>
<path class="rel" d="M1815 1295C1900 1250 2000 1050 2060 920C2090 850 2110 775 2158 764"/>
<path class="rel" d="M1801 1180C1900 1110 2040 990 2100 972Q2120 966 2138 965"/>
<path class="rel" d="M1779 1277C1775 1100 1755 880 1788 805"/>
<path class="rel" d="M1765 1277C1790 1180 1760 1040 1738 988"/>
<path class="rel" d="M1790 1182C1790 1100 1770 1010 1745 990"/>
<path class="rel" d="M1792 1184C1770 1000 1690 700 1669 522"/>
<path class="rel" d="M1814 1277C1795 1000 1770 600 1770 311"/>
<path class="rel" d="M1738 1275C1650 1200 1530 1000 1470 830Q1456 785 1461 777"/>
<path class="rel" d="M1834 1375C1900 1380 2000 1390 2048 1394"/>
<path class="rel" d="M1794 1274C1830 1240 1900 1260 1960 1290C2010 1320 2060 1360 2075 1381"/>
<path class="dot" d="M1816 1281C1950 1210 2300 1000 2460 900Q2530 855 2574 845"/>
<path class="rel" d="M1807 1577C2000 1630 2300 1690 2500 1735Q2620 1765 2646 1786"/>
<path class="rel" d="M1794 1577C1830 1640 2100 1730 2300 1810Q2480 1890 2527 1935"/>
<path class="rel" d="M1844 1553Q1885 1565 1900 1600C1940 1700 1955 1850 1968 1940Q1972 1965 1983 1972"/>
<path class="rel" d="M1809 1577C1880 1740 2050 2000 2189 2204"/>
<path class="rel" d="M1763 1577C1700 1680 1650 1830 1640 1958"/>
<path class="rel" d="M1771 1577C1720 1750 1640 1950 1645 2050Q1650 2125 1678 2155"/>
<path class="rel" d="M1736 1735C1550 1790 1425 2100 1430 2380C1435 2700 1560 2950 1690 3111"/>
<path class="rel" d="M1736 1744C1600 1810 1510 2050 1516 2350C1520 2500 1600 2620 1691 2719"/>
<path class="rel" d="M1764 1747C1700 1960 1780 2250 1880 2510C1980 2800 2200 3150 2330 3321"/>
<path class="rel" d="M1776 1747C1775 1950 1850 2170 2050 2320C2200 2430 2500 2510 2750 2625C3080 2750 3400 2960 3400 3357"/>
<path class="rel" d="M1796 1747C2100 2100 2600 2530 2962 2878"/>
</g>
<g id="badge"><path d="M3728 0H4074V183H3728Q3723 183 3721 178L3669 96Q3667 91 3669 86L3721 5Q3723 0 3728 0Z" fill="#ff6a55"/><text x="4028" y="63" text-anchor="end" textLength="127" lengthAdjust="spacingAndGlyphs" style="font-size:40px;font-weight:500;fill:#fff">XMind</text><text x="4028" y="117" text-anchor="end" textLength="278" lengthAdjust="spacingAndGlyphs" style="font-size:52px;font-weight:500;fill:#fff">Trial Mode</text></g>
</svg>
